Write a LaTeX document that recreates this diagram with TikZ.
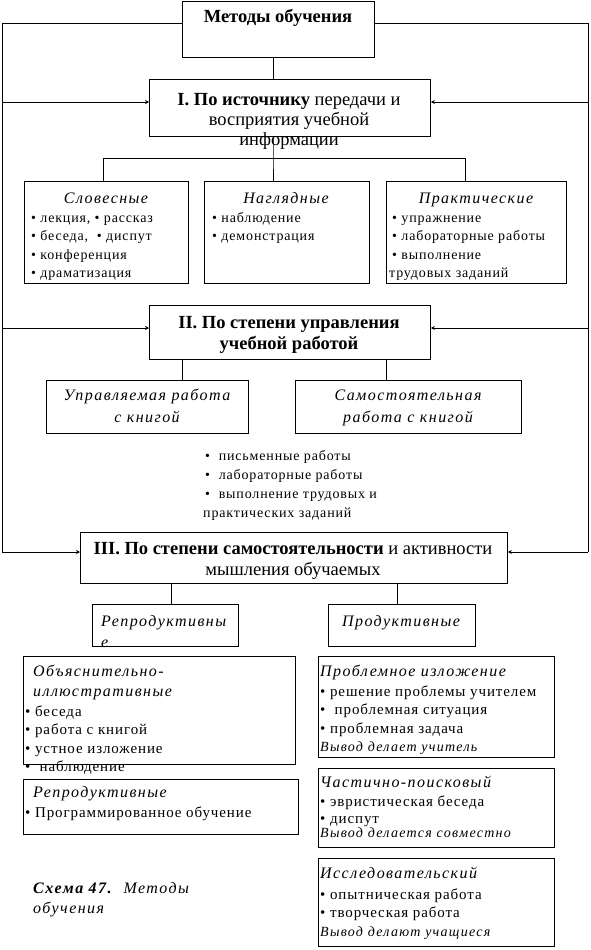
\documentclass[tikz,border=0pt]{standalone}
\usepackage{fontspec}
\setmainfont{Liberation Serif}
\newfontfamily\bodyf[LetterSpace=6]{Liberation Serif}
\newfontfamily\itf[LetterSpace=9]{Liberation Serif}
\usetikzlibrary{arrows.meta}
\tikzset{
  box/.style={draw, line width=0.8pt, anchor=north west, inner sep=0pt},
  conn/.style={line width=0.8pt},
  arr/.style={conn, -{Stealth[length=4pt,width=4pt]}},
  head/.style={anchor=base, inner sep=0pt, align=center, font=\fontsize{18.5}{21}\selectfont},
  ttl/.style={anchor=base, inner sep=0pt, align=center, font=\itf\itshape\fontsize{16}{22}\selectfont},
  ttlw/.style={anchor=base west, inner sep=0pt, align=left, font=\itf\itshape\fontsize{16}{20}\selectfont},
  concl/.style={anchor=base west, inner sep=0pt, align=left, font=\itf\itshape\fontsize{14}{18}\selectfont},
  lst/.style={anchor=base west, inner sep=0pt, align=left, font=\bodyf\fontsize{14}{18.5}\selectfont},
  lstb/.style={lst, font=\bodyf\fontsize{15}{18.5}\selectfont},
}
\begin{document}
\begin{tikzpicture}[x=1pt,y=-1pt]
\useasboundingbox (0,0) rectangle (590,950);
% boxes
\node[box, minimum width=192pt, minimum height=56pt] (top) at (182,1) {};
\node[box, minimum width=281pt, minimum height=57pt] (boxI) at (149,79) {};
\node[box, minimum width=164pt, minimum height=102pt] (b1) at (24,181) {};
\node[box, minimum width=165pt, minimum height=102pt] (b2) at (204,181) {};
\node[box, minimum width=180pt, minimum height=102pt] (b3) at (386,181) {};
\node[box, minimum width=281pt, minimum height=54pt] (boxII) at (149,305) {};
\node[box, minimum width=202pt, minimum height=53pt] (c1) at (46,380) {};
\node[box, minimum width=226pt, minimum height=53pt] (c2) at (295,380) {};
\node[box, minimum width=427pt, minimum height=51pt] (boxIII) at (80,532) {};
\node[box, minimum width=146pt, minimum height=42pt] (r1) at (92,604) {};
\node[box, minimum width=147pt, minimum height=42pt] (r2) at (328,604) {};
\node[box, minimum width=272pt, minimum height=108pt] (o1) at (23,656) {};
\node[box, minimum width=275pt, minimum height=55pt] (o2) at (23,779) {};
\node[box, minimum width=236pt, minimum height=101pt] (p1) at (318,656) {};
\node[box, minimum width=236pt, minimum height=79pt] (p2) at (318,768) {};
\node[box, minimum width=236pt, minimum height=88pt] (p3) at (318,858) {};

% texts (multi-line nodes are placed by the baseline of their last line)
\node[head] (tTop) at (278,23) {\textbf{Методы обучения}};
\node[head, font=\fontsize{18.5}{20}\selectfont] (tI) at (289,145) {\textbf{I. По источнику} передачи и\\восприятия учебной\\информации};
\node[ttl] (tb1) at (106,203) {Словесные};
\node[lst] (lb1) at (31,277.5) {• лекция, • рассказ\\• беседа,\ \ • диспут\\• конференция\\• драматизация};
\node[ttl] (tb2) at (286,203) {Наглядные};
\node[lst] (lb2) at (212,240.5) {• наблюдение\\• демонстрация};
\node[ttl] (tb3) at (476,203) {Практические};
\node[lst] (lb3) at (392,277.5) {• упражнение\\• лабораторные работы\\• выполнение\\\hspace*{-3pt}трудовых заданий};
\node[head] (tII) at (289,349) {\textbf{II. По степени управления}\\\textbf{учебной работой}};
\node[ttl] (tc1) at (147,422) {Управляемая работа\\с книгой};
\node[ttl] (tc2) at (408,422) {Самостоятельная\\работа с книгой};
\node[lst, font=\bodyf\fontsize{14}{19}\selectfont] (free) at (205,517) {•\ \ письменные работы\\•\ \ лабораторные работы\\•\ \ выполнение трудовых и\\\hspace*{-2pt}практических заданий};
\node[head] (tIII) at (293,575) {\textbf{III. По степени самостоятельности} и активности\\мышления обучаемых};
\node[ttlw, font=\itf\itshape\fontsize{16}{21}\selectfont] (tr1) at (101,647) {Репродуктивны\\е};
\node[ttl] (tr2) at (401,626) {Продуктивные};
\node[ttlw] (to1) at (33,696) {Объяснительно-\\иллюстративные};
\node[lstb] (lo1) at (25,771.5) {• беседа\\• работа с книгой\\• устное изложение\\•\ \ наблюдение};
\node[ttlw] (to2) at (33,797) {Репродуктивные};
\node[lstb] (lo2) at (25,817) {• Программированное обучение};
\node[ttlw] (tp1) at (320,676) {Проблемное изложение};
\node[lstb] (lp1) at (320,733) {• решение проблемы учителем\\•\ \ проблемная ситуация\\• проблемная задача};
\node[concl] (cp1) at (320,751) {Вывод делает учитель};
\node[ttlw] (tp2) at (320,787) {Частично-поисковый};
\node[lstb, font=\bodyf\fontsize{15}{17}\selectfont] (lp2) at (320,823) {• эвристическая беседа\\• диспут};
\node[concl] (cp2) at (320,837) {Вывод делается совместно};
\node[ttlw] (tp3) at (320,878) {Исследовательский};
\node[lstb] (lp3) at (320,917.5) {• опытническая работа\\• творческая работа};
\node[concl] (cp3) at (320,936) {Вывод делают учащиеся};
\node[ttlw] (cap) at (33,913) {\bfseries Схема 47.\mdseries\hspace{12pt}Методы\\обучения};

% coordinates
\coordinate (tL) at (2,23);
\coordinate (tR) at (588,23);
\coordinate (bL) at (2,552);
\coordinate (bR) at (588,552);
\coordinate (aL1) at (2,102);
\coordinate (aR1) at (588,102);
\coordinate (aL2) at (2,328);
\coordinate (aR2) at (588,328);
\coordinate (s0) at (273,40);
\coordinate (s1) at (273,158);
\coordinate (h1) at (103,158);
\coordinate (h3) at (465,158);
\coordinate (u1) at (182,370);
\coordinate (u2) at (386,370);
\coordinate (v1) at (171,590);
\coordinate (v2) at (397,590);

% outer frame lines
\draw[conn] (tL -| top.west) -- (tL) -- (bL);
\draw[conn] (tR -| top.east) -- (tR) -- (bR);
\draw[arr] (aL1) -- (aL1 -| boxI.west);
\draw[arr] (aR1) -- (aR1 -| boxI.east);
\draw[arr] (aL2) -- (aL2 -| boxII.west);
\draw[arr] (aR2) -- (aR2 -| boxII.east);
\draw[arr] (bL) -- (bL -| boxIII.west);
\draw[arr] (bR) -- (bR -| boxIII.east);

% tree
\draw[conn] (s0 |- top.south) -- (s0 |- boxI.north);
\draw[conn] (s1 |- boxI.south) -- (s1) -- (s1 |- b2.north);
\draw[conn] (h1 |- b1.north) -- (h1) -- (h3) -- (h3 |- b3.north);
\draw[conn] (u1 |- boxII.south) -- (u1 |- c1.north);
\draw[conn] (u2 |- boxII.south) -- (u2 |- c2.north);
\draw[conn] (v1 |- boxIII.south) -- (v1 |- r1.north);
\draw[conn] (v2 |- boxIII.south) -- (v2 |- r2.north);
\end{tikzpicture}
\end{document}
